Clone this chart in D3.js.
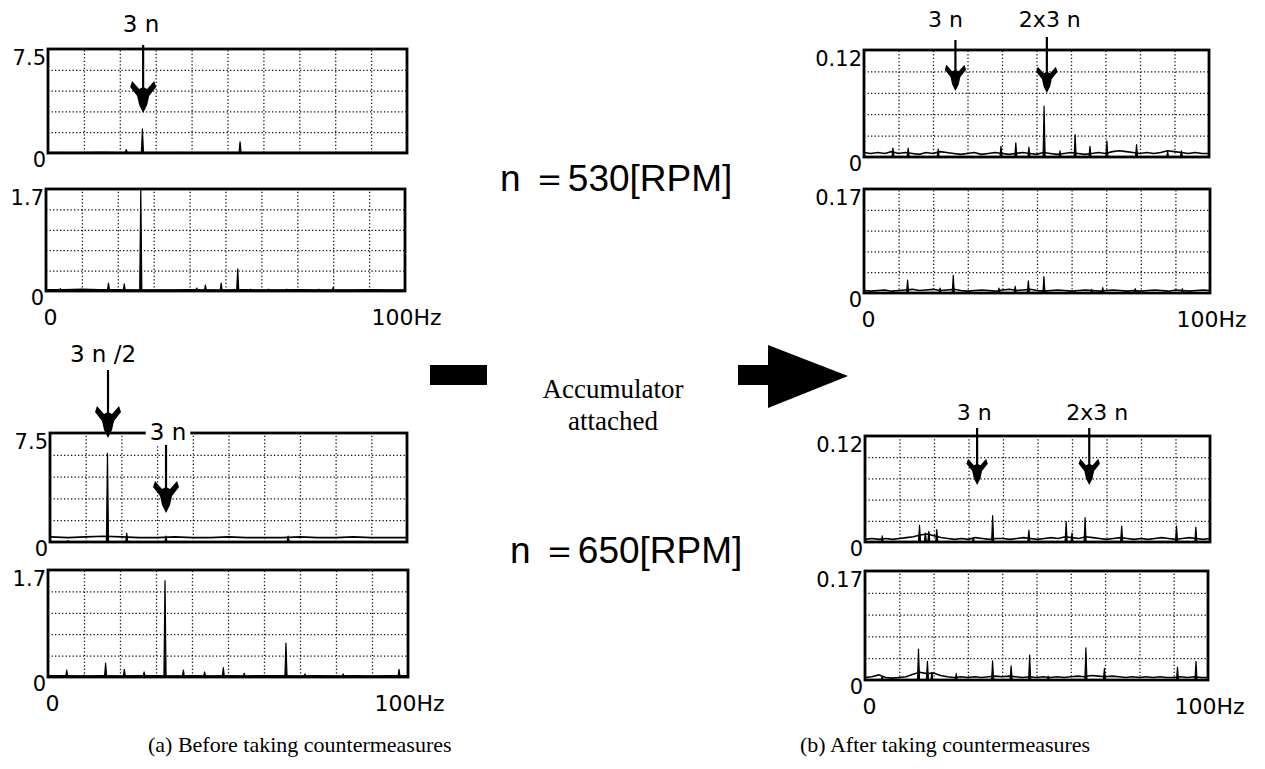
<!DOCTYPE html>
<html lang="en">
<head>
<meta charset="utf-8">
<title>Pressure spectra before / after accumulator</title>
<script src="https://cdn.jsdelivr.net/npm/d3@7"></script>
<style>
  body { margin: 0; background: #fff; }
  svg { display: block; }
  .sans { font-family: 'DejaVu Sans', sans-serif; fill: #000; }
  .arial { font-family: 'Liberation Sans', Arial, sans-serif; fill: #000; }
  .serif { font-family: 'Liberation Serif', 'Times New Roman', serif; fill: #000; }
  .grid line { stroke: #111; stroke-width: 1.3; stroke-dasharray: 1.3 2.2; }
  .grid path { display: none; }
</style>
</head>
<body>
<div id="chart"></div>
<script>

/* Data */
/* =========================== */

// peaks: [frequency Hz, amplitude]
var peaksBefore530Top = [[4, 0.05], [21.8, 0.25], [26.3, 1.75], [37, 0.05], [53.5, 0.8], [60, 0.05]];
var peaksBefore530Bot = [[4, 0.04], [17.4, 0.13], [21.8, 0.12], [26.4, 1.7], [42, 0.05], [44.4, 0.1],
                         [48.8, 0.13], [53.4, 0.37], [57, 0.03], [62, 0.03], [67, 0.03], [76, 0.03], [80, 0.06]];
var peaksBefore650Top = [[5, 0.1], [16.1, 6.1], [21.5, 0.6], [32.5, 0.4], [66.7, 0.4]];
var peaksBefore650Bot = [[5.2, 0.11], [10, 0.03], [16, 0.22], [21.2, 0.12], [26.7, 0.08], [32.5, 1.53],
                         [37.6, 0.11], [43.5, 0.08], [48.7, 0.15], [54.5, 0.06], [66.1, 0.54], [71.4, 0.05],
                         [82, 0.05], [97.5, 0.12]];
var peaksAfter530Top  = [[8.4, 0.01], [12.8, 0.01], [21.5, 0.009], [39.7, 0.012], [44, 0.016], [47.8, 0.011],
                         [52.2, 0.057], [56.8, 0.007], [61.2, 0.025], [65.5, 0.012], [70.4, 0.018], [79, 0.014],
                         [88, 0.006], [92, 0.007]];
var peaksAfter530Bot  = [[12.6, 0.021], [22, 0.008], [25.8, 0.029], [39, 0.008], [43.7, 0.011], [47.5, 0.02],
                         [52, 0.027], [65.8, 0.006], [69, 0.009], [78.4, 0.007], [92, 0.007]];
var peaksAfter650Top  = [[5, 0.007], [15.8, 0.019], [17.5, 0.01], [18.5, 0.012], [20.8, 0.014], [31.4, 0.005],
                         [37, 0.03], [47.5, 0.0135], [58.3, 0.023], [60, 0.01], [63.8, 0.0275], [74.4, 0.018],
                         [90.3, 0.018], [95.9, 0.017]];
var peaksAfter650Bot  = [[5, 0.005], [15.6, 0.048], [18.2, 0.029], [19.5, 0.012], [26.6, 0.01], [37.2, 0.03],
                         [42.6, 0.022], [48, 0.039], [53.4, 0.006], [64.4, 0.05], [69.8, 0.018], [91.1, 0.02],
                         [96.5, 0.029]];

// noise floor, one value every 5 Hz (left) / 2 Hz (right), from 0 Hz
var floorBefore530Top = [0.04, 0.03, 0.04, 0.05, 0.03, 0.04, 0.03, 0.03, 0.04, 0.03, 0.04, 0.03, 0.03, 0.04, 0.03, 0.03, 0.04, 0.03, 0.03, 0.04, 0.03];
var floorBefore530Bot = [0.02, 0.02, 0.03, 0.02, 0.02, 0.015, 0.015, 0.015, 0.02, 0.015, 0.015, 0.02, 0.015, 0.015, 0.02, 0.015, 0.015, 0.015, 0.02, 0.015, 0.015];
var floorBefore650Top = [0.35, 0.3, 0.35, 0.4, 0.35, 0.3, 0.3, 0.35, 0.3, 0.3, 0.35, 0.3, 0.3, 0.3, 0.35, 0.3, 0.3, 0.35, 0.3, 0.3, 0.3];
var floorBefore650Bot = [0.02, 0.02, 0.015, 0.02, 0.015, 0.02, 0.02, 0.015, 0.02, 0.015, 0.02, 0.015, 0.02, 0.02, 0.015, 0.02, 0.015, 0.02, 0.015, 0.02, 0.02];
var floorAfter530Top  = [0.005, 0.004, 0.005, 0.004, 0.006, 0.004, 0.005, 0.004, 0.003, 0.005, 0.004, 0.006, 0.005,
                         0.004, 0.003, 0.004, 0.005, 0.003, 0.004, 0.005, 0.004, 0.003, 0.004, 0.005, 0.004, 0.003,
                         0.005, 0.004, 0.003, 0.004, 0.005, 0.004, 0.003, 0.004, 0.005, 0.004, 0.006, 0.007, 0.006,
                         0.005, 0.004, 0.005, 0.004, 0.005, 0.007, 0.006, 0.005, 0.004, 0.005, 0.004, 0.004];
var floorAfter530Bot  = [0.004, 0.003, 0.004, 0.005, 0.003, 0.004, 0.005, 0.006, 0.004, 0.005, 0.006, 0.004, 0.005,
                         0.006, 0.004, 0.003, 0.004, 0.005, 0.004, 0.003, 0.005, 0.006, 0.004, 0.005, 0.006, 0.004,
                         0.003, 0.004, 0.005, 0.004, 0.003, 0.004, 0.005, 0.004, 0.003, 0.004, 0.005, 0.004, 0.003,
                         0.004, 0.003, 0.004, 0.005, 0.004, 0.003, 0.005, 0.004, 0.003, 0.004, 0.005, 0.004];
var floorAfter650Top  = [0.003, 0.004, 0.003, 0.004, 0.003, 0.004, 0.005, 0.006, 0.008, 0.009, 0.007, 0.005, 0.004,
                         0.003, 0.004, 0.003, 0.005, 0.004, 0.003, 0.004, 0.004, 0.003, 0.004, 0.005, 0.004, 0.003,
                         0.004, 0.005, 0.004, 0.006, 0.005, 0.004, 0.006, 0.005, 0.004, 0.003, 0.004, 0.005, 0.004,
                         0.003, 0.004, 0.003, 0.004, 0.005, 0.004, 0.003, 0.004, 0.005, 0.004, 0.003, 0.004];
var floorAfter650Bot  = [0.004, 0.005, 0.008, 0.004, 0.003, 0.004, 0.005, 0.009, 0.012, 0.01, 0.011, 0.007, 0.005,
                         0.004, 0.005, 0.004, 0.005, 0.004, 0.005, 0.006, 0.005, 0.006, 0.005, 0.004, 0.005, 0.004,
                         0.005, 0.004, 0.005, 0.004, 0.005, 0.006, 0.005, 0.007, 0.006, 0.005, 0.006, 0.005, 0.004,
                         0.005, 0.004, 0.005, 0.004, 0.005, 0.004, 0.004, 0.005, 0.004, 0.005, 0.004, 0.004];

// full scale of each panel and its label
var fullScales = [7.5, 1.7, 7.5, 1.7, 0.12, 0.17, 0.12, 0.17];
var fullScaleLabels = ['7.5', '1.7', '7.5', '1.7', '0.12', '0.17', '0.12', '0.17'];
var freqTicks = [0, 100];
var freqTickLabels = ['0', '100Hz'];

// harmonic markers: [panel index, frequency Hz, label]
var markers = [[0, 26.5, '3 n'], [2, 16.25, '3 n /2'], [2, 32.5, '3 n'],
               [4, 26.5, '3 n'], [4, 53, '2x3 n'], [6, 32.5, '3 n'], [6, 65, '2x3 n']];

var speedLabels = ['n \uFF1D530[RPM]', 'n \uFF1D650[RPM]'];
var captions = ['(a) Before taking countermeasures', '(b) After taking countermeasures'];


/* Layout */
/* ====== */

var width = 1265, height = 769;

var layout = [
  { x0: 48,  x1: 407,  y0: 49,  y1: 153, step: 5, xLabels: false },
  { x0: 46,  x1: 405,  y0: 189, y1: 291, step: 5, xLabels: true },
  { x0: 50,  x1: 407,  y0: 433, y1: 542, step: 5, xLabels: false },
  { x0: 48,  x1: 408,  y0: 570, y1: 677, step: 5, xLabels: true },
  { x0: 864, x1: 1209, y0: 50,  y1: 157, step: 2, xLabels: false },
  { x0: 864, x1: 1210, y0: 189, y1: 293, step: 2, xLabels: true },
  { x0: 865, x1: 1210, y0: 436, y1: 542, step: 2, xLabels: false },
  { x0: 865, x1: 1208, y0: 571, y1: 680, step: 2, xLabels: true }
];
var spectra = [
  [peaksBefore530Top, floorBefore530Top], [peaksBefore530Bot, floorBefore530Bot],
  [peaksBefore650Top, floorBefore650Top], [peaksBefore650Bot, floorBefore650Bot],
  [peaksAfter530Top, floorAfter530Top],   [peaksAfter530Bot, floorAfter530Bot],
  [peaksAfter650Top, floorAfter650Top],   [peaksAfter650Bot, floorAfter650Bot]
];

// marker geometry (label baseline, arrow start, arrow tip, head scale, label x shift, font size)
var markerGeom = [
  { ly: 32,  top: 45,  tip: 113, s: 1.0,  dx: -2,  fs: 23 },
  { ly: 362, top: 370, tip: 438, s: 1.0,  dx: -5,  fs: 23 },
  { ly: 440, top: 445, tip: 513, s: 1.0,  dx: 2,   fs: 23 },
  { ly: 27,  top: 40,  tip: 91,  s: 0.82, dx: -10, fs: 22 },
  { ly: 27,  top: 37,  tip: 93,  s: 0.82, dx: 3,   fs: 22 },
  { ly: 420, top: 428, tip: 485, s: 0.82, dx: -3,  fs: 22 },
  { ly: 420, top: 428, tip: 485, s: 0.82, dx: 8,   fs: 22 }
];


/* Canvas */
/* ====== */

var svg = d3.select('#chart').append('svg')
    .attr('width', width)
    .attr('height', height);

svg.append('rect').attr('width', width).attr('height', height).attr('fill', '#fff');

var scales = [];

layout.forEach(function(p, i) {

  var x = d3.scaleLinear().domain([0, 100]).range([p.x0, p.x1]);
  var y = d3.scaleLinear().domain([0, fullScales[i]]).range([p.y1, p.y0]).clamp(true);
  scales.push({ x: x, y: y });

  var g = svg.append('g');

  // Grid - dotted, 10 x 5 divisions
  g.append('g').attr('class', 'grid')
      .attr('transform', 'translate(0,' + p.y1 + ')')
      .call(d3.axisBottom(x).tickValues(d3.range(10, 100, 10)).tickSize(-(p.y1 - p.y0)).tickFormat(''));

  g.append('g').attr('class', 'grid')
      .attr('transform', 'translate(' + p.x0 + ',0)')
      .call(d3.axisLeft(y).tickValues(d3.range(1, 5).map(function(k) { return fullScales[i] * k / 5; }))
        .tickSize(-(p.x1 - p.x0)).tickFormat(''));

  // Noise floor
  var floor = spectra[i][1];
  g.append('path')
      .datum(floor)
      .attr('fill', 'none')
      .attr('stroke', '#000')
      .attr('stroke-width', 1.6)
      .attr('d', d3.line().x(function(d, k) { return x(k * p.step); }).y(function(d) { return y(d); }));

  // Peaks
  g.selectAll('path.peak')
    .data(spectra[i][0])
    .enter().append('path')
      .attr('class', 'peak')
      .attr('fill', '#000')
      .attr('stroke', '#000')
      .attr('stroke-width', 1.2)
      .attr('stroke-linejoin', 'round')
      .attr('d', function(d) {
        return 'M' + x(d[0] - 0.3) + ',' + y(0) + 'L' + x(d[0]) + ',' + y(d[1]) + 'L' + x(d[0] + 0.3) + ',' + y(0) + 'Z';
      });

  // Frame
  g.append('rect')
      .attr('x', p.x0).attr('y', p.y0)
      .attr('width', p.x1 - p.x0).attr('height', p.y1 - p.y0)
      .attr('fill', 'none')
      .attr('stroke', '#000')
      .attr('stroke-width', 2.8);

  // Full-scale labels
  var ay = g.append('g')
      .attr('transform', 'translate(' + (p.x0 - 2) + ',0)')
      .call(d3.axisLeft(y).tickValues([0, fullScales[i]]).tickSize(0).tickPadding(0)
        .tickFormat(function(d) { return d === 0 ? '0' : fullScaleLabels[i]; }));
  ay.select('.domain').remove();
  ay.selectAll('text')
      .attr('class', 'sans')
      .attr('font-size', 21)
      .attr('dy', function(d) { return d === 0 ? '0.62em' : '0.72em'; });

  // Frequency labels
  if (p.xLabels) {
    var ax = g.append('g')
        .attr('transform', 'translate(0,' + (p.y1 + 17) + ')')
        .call(d3.axisBottom(x).tickValues(freqTicks).tickSize(0).tickPadding(0)
          .tickFormat(function(d, k) { return freqTickLabels[k]; }));
    ax.select('.domain').remove();
    ax.selectAll('text')
        .attr('class', 'sans')
        .attr('font-size', 22)
        .attr('text-anchor', function(d) { return d === 0 ? 'middle' : 'start'; })
        .attr('x', function(d) { return d === 0 ? 4 : -34; })
        .attr('dy', '0.75em');
  }

});


/* Harmonic markers */
/* ================ */

// solid head with flared upper wings, tip at (cx, tip)
function headPath(cx, tip, s) {
  var pts = [[0, 0], [-4, -8], [-6, -17], [-13, -26], [-11, -32], [-4, -24], [0, -26],
             [4, -24], [11, -32], [13, -26], [6, -17], [4, -8]];
  return 'M' + pts.map(function(q) { return (cx + q[0] * s) + ',' + (tip + q[1] * s); }).join('L') + 'Z';
}

markers.forEach(function(m, k) {
  var sc = scales[m[0]], mg = markerGeom[k];
  var cx = sc.x(m[1]);

  var t = svg.append('text')
      .attr('class', 'sans')
      .attr('x', cx + mg.dx)
      .attr('y', mg.ly)
      .attr('text-anchor', 'middle')
      .attr('font-size', mg.fs)
      .text(m[2]);

  // label sitting on the frame gets a white patch
  if (mg.ly > layout[m[0]].y0 - 8 && mg.ly < layout[m[0]].y0 + 12) {
    var bb = t.node().getBBox();
    svg.insert('rect', function() { return t.node(); })
        .attr('x', bb.x - 4).attr('y', bb.y).attr('width', bb.width + 8).attr('height', bb.height)
        .attr('fill', '#fff');
  }

  svg.append('line')
      .attr('x1', cx).attr('x2', cx)
      .attr('y1', mg.top).attr('y2', mg.tip - 8)
      .attr('stroke', '#000').attr('stroke-width', 2.2);

  svg.append('path')
      .attr('d', headPath(cx, mg.tip, mg.s))
      .attr('fill', '#000');
});


/* Centre texts */
/* ============ */

svg.append('text').attr('class', 'arial')
    .attr('x', 500).attr('y', 191).attr('font-size', 37)
    .text(speedLabels[0]);

svg.append('text').attr('class', 'arial')
    .attr('x', 510).attr('y', 563).attr('font-size', 37)
    .text(speedLabels[1]);

svg.append('text').attr('class', 'serif')
    .attr('x', 613).attr('y', 398).attr('text-anchor', 'middle').attr('font-size', 27)
    .text('Accumulator');
svg.append('text').attr('class', 'serif')
    .attr('x', 613).attr('y', 430).attr('text-anchor', 'middle').attr('font-size', 27)
    .text('attached');

// black bar and big arrow
svg.append('rect')
    .attr('x', 430).attr('y', 365).attr('width', 57).attr('height', 20)
    .attr('fill', '#000');

svg.append('path')
    .attr('d', 'M738,365 L768,365 L768,345 L848,376 L768,408 L768,385 L738,385 Z')
    .attr('fill', '#000');


/* Captions */
/* ======== */

svg.append('text').attr('class', 'serif')
    .attr('x', 148).attr('y', 752).attr('font-size', 22)
    .text(captions[0]);

svg.append('text').attr('class', 'serif')
    .attr('x', 800).attr('y', 752).attr('font-size', 22)
    .text(captions[1]);

</script>
</body>
</html>
